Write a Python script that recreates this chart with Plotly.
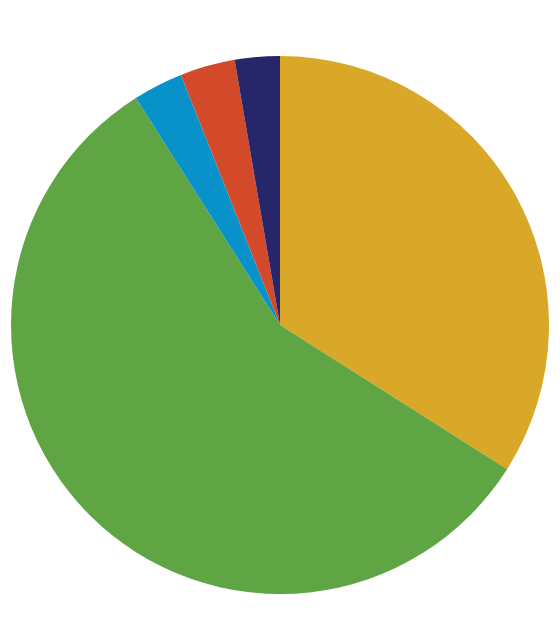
import plotly.graph_objects as go

# ── Slice data (clockwise from 12 o'clock) ──────────────
labels = ["A", "B", "C", "D", "E"]
shares = [34.0, 57.0, 3.0, 3.3, 2.7]
colors = ["#D9A829", "#5FA544", "#0892C9", "#D24A2A", "#28266B"]

fig = go.Figure(
    go.Pie(
        labels=labels,
        values=shares,
        sort=False,
        direction="clockwise",
        rotation=0,
        marker=dict(colors=colors, line=dict(width=0)),
        textinfo="none",
        hoverinfo="label+percent",
    )
)

# page body has an 8px margin, so the figure is shrunk and shifted to compensate
fig.update_layout(
    width=552,
    height=622,
    margin=dict(l=3, r=11, t=48, b=36),
    paper_bgcolor="white",
    plot_bgcolor="white",
    showlegend=False,
)

fig.write_html("out.html")
